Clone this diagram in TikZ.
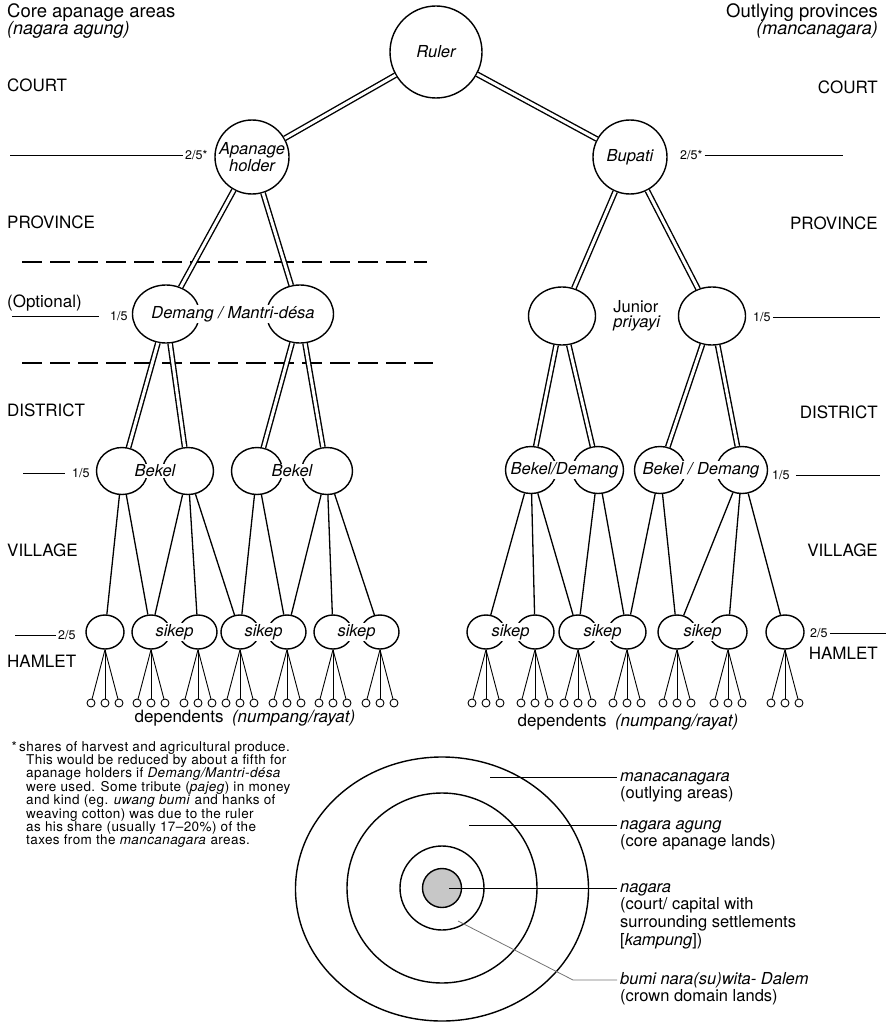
\documentclass[tikz,border=0pt]{standalone}
\usepackage{fontspec}
\setmainfont{TeX Gyre Heros}
\newfontfamily\notefont[LetterSpace=3]{TeX Gyre Heros}
\usetikzlibrary{positioning,shapes.geometric,calc}
\newcommand{\txtsize}{\fontsize{16.5}{18}\selectfont}
\newcommand{\hdsize}{\fontsize{17}{19}\selectfont}

\begin{document}
\begin{tikzpicture}[x=1pt,y=-1pt,
        lvl/.style={font=\hdsize,inner sep=0pt},
        person/.style={draw,line width=1.4pt,inner sep=0pt,font=\txtsize\itshape},
        demring/.style={person,ellipse,minimum width=67pt,minimum height=58pt},
        bekring/.style={person,ellipse,minimum width=51pt,minimum height=47pt},
        sikring/.style={person,ellipse,minimum width=38pt,minimum height=34pt},
        depdot/.style={draw,line width=0.9pt,circle,minimum size=8pt,inner sep=0pt},
        tag/.style={fill=white,inner sep=1pt,font=\txtsize\itshape},
        frac/.style={font=\fontsize{12.5}{14}\selectfont,inner xsep=2pt,inner ysep=0pt},
        tie/.style={line width=1.4pt,double,double distance=3pt},
        share/.style={line width=1pt},
        lbl/.style={font=\txtsize,inner xsep=3pt,inner ysep=1.25pt,text height=11.5pt,text depth=3.5pt,anchor=west}
    ]
        \useasboundingbox (0,0) rectangle (886,1022);
        %% Headings
        \node[lvl,anchor=west,font=\fontsize{18.5}{20}\selectfont] (corehd) at (7,13) {Core apanage areas};
        \node[lvl,anchor=west,font=\fontsize{18}{20}\selectfont] (coreit) at (7,30) {\itshape (nagara agung)};
        \node[lvl,anchor=east,font=\fontsize{18.5}{20}\selectfont] (outhd) at (878,13) {Outlying provinces};
        \node[lvl,anchor=east,font=\fontsize{18}{20}\selectfont] (outit) at (878,30) {\itshape (mancanagara)};
        %% Levels
        \node[lvl,anchor=west] (courtl) at (7,85) {COURT};
        \node[lvl,anchor=west] (provl) at (7,222) {PROVINCE};
        \node[lvl,anchor=west] (optl) at (7,303) {(Optional)};
        \node[lvl,anchor=west] (distl) at (7,410) {DISTRICT};
        \node[lvl,anchor=west] (villl) at (7,550) {VILLAGE};
        \node[lvl,anchor=west] (haml) at (7,661) {HAMLET};
        \node[lvl,anchor=east] (courtr) at (878,87) {COURT};
        \node[lvl,anchor=east] (provr) at (878,223) {PROVINCE};
        \node[lvl,anchor=east] (distr) at (878,412) {DISTRICT};
        \node[lvl,anchor=east] (villr) at (878,550) {VILLAGE};
        \node[lvl,anchor=east] (hamr) at (878,653) {HAMLET};
        \draw[line width=1.2pt,dash pattern=on 20pt off 8pt] (22,262) -- (427,262);
        \draw[line width=1.2pt,dash pattern=on 20pt off 8pt] (22,363) -- (433,363);
        %% Court
        \node[person,circle,minimum size=92pt] (ruler) at (436,52) {Ruler};
        \node[person,circle,minimum size=74pt,align=center,font=\fontsize{16.5}{16.5}\selectfont\itshape] (apan) at (252,157) {Apanage\\holder};
        \node[person,circle,minimum size=74pt] (bup) at (630,157) {Bupati};
        %% Province
        \node[demring] (dem1) at (166,314) {};
        \node[demring] (dem2) at (300,314) {};
        \node[demring] (jun1) at (562,316) {};
        \node[demring] (jun2) at (712,316) {};
        %% District
        \foreach \x [count=\i] in {122,188,257,327} \node[bekring] (bek\i) at (\x,471) {};
        \foreach \x [count=\i] in {531,598,660,742} \node[bekring] (bd\i) at (\x,470) {};
        %% Village
        \foreach \x [count=\i] in {105,151,198,240,287,333,380} \node[sikring] (sl\i) at (\x,632) {};
        \foreach \x [count=\i] in {486,535,578,627,677,728,785} \node[sikring] (sr\i) at (\x,632) {};
        %% Ties
        \foreach \a/\b in {ruler/apan,ruler/bup,apan/dem1,apan/dem2,bup/jun1,bup/jun2,dem1/bek1,dem1/bek2,dem2/bek3,dem2/bek4,jun1/bd1,jun1/bd2,jun2/bd3,jun2/bd4}
            \draw[tie] (\a) -- (\b);
        \foreach \a/\b in {bek1/sl1,bek1/sl2,bek2/sl2,bek2/sl3,bek2/sl4,bek3/sl4,bek3/sl5,bek4/sl5,bek4/sl6,bek4/sl7,bd1/sr1,bd1/sr2,bd1/sr3,bd2/sr3,bd2/sr4,bd3/sr4,bd3/sr5,bd4/sr5,bd4/sr6,bd4/sr7}
            \draw[line width=1.3pt] (\a) -- (\b);
        %% Dependents
        \foreach \s/\x in {sl1/105,sl2/151,sl3/198,sl4/240,sl5/287,sl6/333,sl7/380,sr1/486,sr2/535,sr3/578,sr4/627,sr5/677,sr6/728,sr7/785}
            \foreach \d [count=\j] in {-14,0,14} {
                \node[depdot] (\s\j) at (\x+\d,703) {};
                \draw[line width=0.9pt] (\s.south) -- (\s\j);
            }
        \node[lvl] (depl) at (245,718) {dependents\hspace{0.5em}\textit{(numpang/rayat)}};
        \node[lvl] (depr) at (628,722) {dependents\hspace{0.5em}\textit{(numpang/rayat)}};
        %% Names
        \node[tag] (demtag) at ($(dem1)!0.5!(dem2)$) {Demang / Mantri-désa};
        \node[lvl,align=left,font=\fontsize{16.5}{15}\selectfont] (juntag) at ($(jun1)!0.5!(jun2)$) {Junior\\\textit{priyayi}};
        \node[tag] (bektag1) at ($(bek1)!0.5!(bek2)$) {Bekel};
        \node[tag] (bektag2) at ($(bek3)!0.5!(bek4)$) {Bekel};
        \node[tag] (bdtag1) at ($(bd1)!0.5!(bd2)$) {Bekel/Demang};
        \node[tag] (bdtag2) at ($(bd3)!0.5!(bd4)$) {Bekel / Demang};
        \foreach \a/\b [count=\i] in {sl2/sl3,sl4/sl5,sl6/sl7,sr1/sr2,sr3/sr4,sr5/sr6}
            \node[tag] (sktag\i) at ($(\a)!0.5!(\b)$) {sikep};
        %% Shares
        \node[frac,anchor=west] (apfrac) at (183,155) {2/5*};
        \coordinate (apshare) at (10,155);
        \draw[share] (apshare) -- (apfrac.west);
        \node[frac,anchor=west] (bupfrac) at (678,155) {2/5*};
        \coordinate (bupshare) at (843,155);
        \draw[share] (bupfrac.east) -- (bupshare);
        \node[frac,anchor=west] (demfrac) at (108,316) {1/5};
        \coordinate (demshare) at (12,316);
        \draw[share,shorten >=9pt] (demshare) -- (demfrac.west);
        \node[frac,anchor=west] (junfrac) at (751,317) {1/5};
        \coordinate (junshare) at (880,317);
        \draw[share] (junfrac.east) -- (junshare);
        \node[frac,anchor=west] (bekfrac) at (70,473) {1/5};
        \coordinate (bekshare) at (23,473);
        \draw[share,shorten >=5pt] (bekshare) -- (bekfrac.west);
        \node[frac,anchor=west] (bdfrac) at (770,475) {1/5};
        \coordinate (bdshare) at (880,475);
        \draw[share,shorten <=4pt] (bdfrac.east) -- (bdshare);
        \node[frac,anchor=west] (skfrac) at (56,635) {2/5};
        \coordinate (skshare) at (15,635);
        \draw[share] (skshare) -- (skfrac.west);
        \node[frac,anchor=west] (srfrac) at (808,633) {2/5};
        \coordinate (srshare) at (886,633);
        \draw[share] (srfrac.east) -- (srshare);
        %% Footnote
        \node[anchor=north west,align=left,inner sep=0pt,font=\notefont\fontsize{13.5}{13.4}\selectfont] (fnote) at (19,741)
            {\llap{*\,}shares of harvest and agricultural produce.\\
            \hspace*{7pt}This would be reduced by about a fifth for\\
            \hspace*{7pt}apanage holders if \textit{Demang/Mantri-désa}\\
            \hspace*{7pt}were used. Some tribute (\textit{pajeg}) in money\\
            \hspace*{7pt}and kind (eg. \textit{uwang bumi} and hanks of\\
            \hspace*{7pt}weaving cotton) was due to the ruler\\
            \hspace*{7pt}as his share (usually 17\textendash 20\%) of the\\
            \hspace*{7pt}taxes from the \textit{mancanagara} areas.};
        %% Rings
        \draw[line width=1.4pt] (442,889) ellipse [x radius=146.5,y radius=132];
        \draw[line width=1.4pt] (442,888) circle [radius=95];
        \draw[line width=1.4pt] (442,888) circle [radius=42];
        \draw[line width=1.4pt,fill=black!22] (442,888) circle [radius=19.5];
        \coordinate (mancpt) at (490,777);
        \node[lbl] (manc) at (617,777) {\itshape manacanagara};
        \node[lbl,below right=0pt and 0pt of manc.south west] (mancb) {(outlying areas)};
        \draw[line width=1pt] (mancpt) -- (manc.west);
        \coordinate (agungpt) at (469,825);
        \node[lbl] (agung) at (617,825) {\itshape nagara agung};
        \node[lbl,below right=0pt and 0pt of agung.south west] (agungb) {(core apanage lands)};
        \draw[line width=1pt] (agungpt) -- (agung.west);
        \coordinate (nagpt) at (449,888);
        \node[lbl] (nag) at (617,888) {\itshape nagara};
        \node[lbl,below right=0pt and 0pt of nag.south west] (nagb) {(court/ capital with};
        \node[lbl,below right=0pt and 0pt of nagb.south west] (nagc) {surrounding settlements};
        \node[lbl,below right=0pt and 0pt of nagc.south west] (nagd) {[\textit{kampung}])};
        \draw[line width=1pt] (nagpt) -- (nag.west);
        \coordinate (bumipt) at (458,921);
        \coordinate (bumibend) at (573,980);
        \node[lbl] (bumi) at (617,980) {\itshape bumi nara(su)wita- Dalem};
        \node[lbl,below right=0pt and 0pt of bumi.south west] (bumib) {(crown domain lands)};
        \draw[line width=0.8pt,black!55] (bumipt) -- (bumibend) -- (bumi.west);
\end{tikzpicture}
\end{document}
